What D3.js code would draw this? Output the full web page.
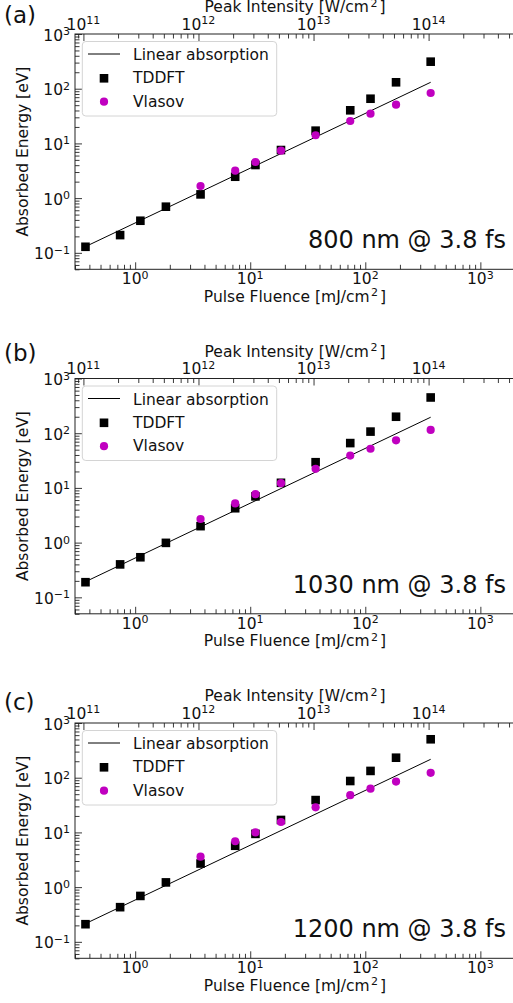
<!DOCTYPE html>
<html><head><meta charset="utf-8">
<script src="https://cdn.jsdelivr.net/npm/d3@7"></script>
<style>
body{margin:0;background:#fff}
svg{display:block;font-family:"DejaVu Sans",Verdana,sans-serif}
</style>
</head><body>
<svg id="c" width="513" height="1003"></svg>
<script>
// ---- data ----
const fluence = [0.37, 0.74, 1.11, 1.85, 3.7, 7.4, 11.1, 18.5, 37, 74, 111, 185, 370];
const vlasovFluence = [3.7, 7.4, 11.1, 18.5, 37, 74, 111, 185, 370];

const tddftA  = [0.129, 0.211, 0.386, 0.697, 1.17, 2.46, 4.03, 7.57, 17.1, 40.3, 65.6, 131, 312];
const vlasovA = [1.66, 3.17, 4.57, 7.36, 14.1, 25.7, 34.9, 51, 83.5];
const linearA = [0.13, 131];

const tddftB  = [0.189, 0.40, 0.54, 0.99, 2.0, 4.25, 7.0, 12.4, 29.5, 66, 107, 200, 450];
const vlasovB = [2.7, 5.2, 7.7, 12.2, 22.3, 39, 52, 74, 115];
const linearB = [0.193, 196];

const tddftC  = [0.21, 0.43, 0.69, 1.22, 2.7, 5.7, 9.4, 16.9, 39, 87, 133, 232, 504];
const vlasovC = [3.6, 6.9, 10.0, 15.5, 28.8, 48, 63, 85, 123];
const linearC = [0.215, 217];

const xMajorTicks = [1, 10, 100, 1000];
const yMajorTicks = [0.1, 1, 10, 100, 1000];
const topMajorTicks = [1e11, 1e12, 1e13, 1e14];
const xTickExp = ["0", "1", "2", "3"];
const yTickExp = ["\u22121", "0", "1", "2", "3"];
const topTickExp = ["11", "12", "13", "14"];
const fluencePer1e11 = 0.355; // mJ/cm^2 corresponding to 1e11 W/cm^2

const labels = ["(a)", "(b)", "(c)"];
const annotations = ["800 nm @ 3.8 fs", "1030 nm @ 3.8 fs", "1200 nm @ 3.8 fs"];
const legendNames = ["Linear absorption", "TDDFT", "Vlasov"];

// ---- layout ----
const panels = [
  {tddft: tddftA, vlasov: vlasovA, linear: linearA, top: 34,    labelY: 22.5},
  {tddft: tddftB, vlasov: vlasovB, linear: linearB, top: 378.5, labelY: 360.5},
  {tddft: tddftC, vlasov: vlasovC, linear: linearC, top: 723,   labelY: 709.5}
];
const L = 75, R = 515, H = 235.3;
const FS = 15.5, SUP = 11;
const magenta = "#c000c0", ink = "#111";

const svg = d3.select("#c");

function minors(domain) {
  const out = [];
  const e0 = Math.floor(Math.log10(domain[0])), e1 = Math.ceil(Math.log10(domain[1]));
  for (let e = e0; e <= e1; e++) for (let m = 2; m <= 9; m++) {
    const v = m * Math.pow(10, e);
    if (v >= domain[0] * 0.999 && v <= domain[1] * 1.001) out.push(v);
  }
  return out;
}

function supText(g, x, y, base, exp, anchor, size, supSize, rise) {
  const t = g.append("text").attr("x", x).attr("y", y)
    .attr("text-anchor", anchor).attr("font-size", size).attr("fill", ink);
  t.append("tspan").text(base);
  t.append("tspan").attr("font-size", supSize).attr("dy", -rise).text(exp);
  return t;
}

panels.forEach((p, i) => {
  const top = p.top, bottom = top + H;
  const g = svg.append("g");
  const xDom = [0.3, 2000];
  const x = d3.scaleLog().domain(xDom).range([L, R]);
  const k = 1e11 / fluencePer1e11;
  const xTop = d3.scaleLog().domain([xDom[0] * k, xDom[1] * k]).range([L, R]);
  const yDom = [0.05, 1000];
  const y = d3.scaleLog().domain(yDom).range([bottom, top]);

  // ticks
  const axes = [
    {mk: () => d3.axisBottom(x), tr: `translate(0,${bottom})`, maj: xMajorTicks, min: minors(xDom)},
    {mk: () => d3.axisTop(xTop), tr: `translate(0,${top})`, maj: topMajorTicks, min: minors(xTop.domain())},
    {mk: () => d3.axisLeft(y), tr: `translate(${L},0)`, maj: yMajorTicks, min: minors(yDom)}
  ];
  axes.forEach(a => {
    const gm = g.append("g").attr("transform", a.tr).style("color", "#222")
      .call(a.mk().tickValues(a.maj).tickSize(-7).tickFormat(""));
    gm.select(".domain").remove();
    const gn = g.append("g").attr("transform", a.tr).style("color", "#222")
      .call(a.mk().tickValues(a.min).tickSize(-4.5).tickFormat(""));
    gn.select(".domain").remove();
  });
  g.selectAll(".tick line").attr("stroke-width", 0.9);

  // spines
  g.append("rect").attr("x", L).attr("y", top).attr("width", R - L).attr("height", H)
    .attr("fill", "none").attr("stroke", "#222").attr("stroke-width", 1);

  // tick labels
  xMajorTicks.forEach((v, j) => supText(g, x(v), bottom + 14.7, "10", xTickExp[j], "middle", FS, SUP, 5.5));
  topMajorTicks.forEach((v, j) => supText(g, xTop(v), top - 4.5, "10", topTickExp[j], "middle", FS, SUP, 5.5));
  yMajorTicks.forEach((v, j) => supText(g, 70, y(v) + 6.5, "10", yTickExp[j], "end", FS, SUP, 5.5));

  // axis labels
  const xl = g.append("text").attr("x", (L + R) / 2).attr("y", bottom + 32.4)
    .attr("text-anchor", "middle").attr("font-size", FS).attr("fill", ink);
  xl.append("tspan").text("Pulse Fluence [mJ/cm");
  xl.append("tspan").attr("font-size", SUP).attr("dy", -5.5).attr("dx", 1.5).text("2");
  xl.append("tspan").attr("dy", 5.5).attr("dx", 2).text("]");

  const tl = g.append("text").attr("x", (L + R) / 2).attr("y", top - 22)
    .attr("text-anchor", "middle").attr("font-size", FS).attr("fill", ink);
  tl.append("tspan").text("Peak Intensity [W/cm");
  tl.append("tspan").attr("font-size", SUP).attr("dy", -5.5).attr("dx", 1.5).text("2");
  tl.append("tspan").attr("dy", 5.5).attr("dx", 2).text("]");

  g.append("text").attr("transform", `translate(28,${(top + bottom) / 2}) rotate(-90)`)
    .attr("text-anchor", "middle").attr("font-size", FS).attr("fill", ink)
    .text("Absorbed Energy [eV]");

  // panel label
  g.append("text").attr("x", 4).attr("y", p.labelY).attr("font-size", 23).attr("fill", ink).text(labels[i]);

  // data
  const lineData = [[fluence[0], p.linear[0]], [fluence[fluence.length - 1], p.linear[1]]];
  g.append("path").datum(lineData)
    .attr("d", d3.line().x(d => x(d[0])).y(d => y(d[1])))
    .attr("fill", "none").attr("stroke", "#000").attr("stroke-width", 1);

  const sq = 8.6;
  g.selectAll(".sq").data(p.tddft).join("rect")
    .attr("x", (d, j) => x(fluence[j]) - sq / 2).attr("y", d => y(d) - sq / 2)
    .attr("width", sq).attr("height", sq).attr("fill", "#000");

  g.selectAll(".ci").data(p.vlasov).join("circle")
    .attr("cx", (d, j) => x(vlasovFluence[j])).attr("cy", d => y(d))
    .attr("r", 4.1).attr("fill", magenta);

  // annotation
  g.append("text").attr("x", 506).attr("y", bottom - 21).attr("text-anchor", "end")
    .attr("font-size", 24).attr("fill", ink).text(annotations[i]);

  // legend
  const lg = g.append("g");
  lg.append("rect").attr("x", 82.3).attr("y", top + 7.5).attr("width", 194.4).attr("height", 74.5)
    .attr("rx", 3.5).attr("fill", "#fff").attr("fill-opacity", 0.8)
    .attr("stroke", "#d4d4d4").attr("stroke-width", 1);
  lg.append("line").attr("x1", 88).attr("x2", 120).attr("y1", top + 20).attr("y2", top + 20)
    .attr("stroke", "#000").attr("stroke-width", 1);
  lg.append("rect").attr("x", 104 - sq / 2).attr("y", top + 44.3 - sq / 2).attr("width", sq).attr("height", sq).attr("fill", "#000");
  lg.append("circle").attr("cx", 104).attr("cy", top + 67.7).attr("r", 4.1).attr("fill", magenta);
  [26, 49.3, 72.6].forEach((dy, j) => {
    lg.append("text").attr("x", 133).attr("y", top + dy).attr("font-size", FS).attr("fill", ink).text(legendNames[j]);
  });
});
</script>
</body></html>
